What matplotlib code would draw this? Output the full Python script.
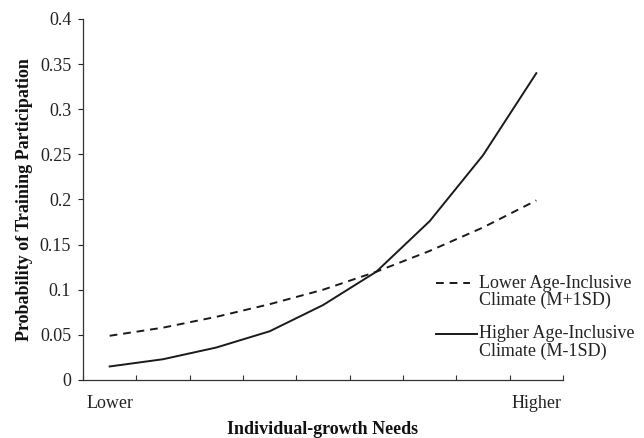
import matplotlib
matplotlib.use("Agg")
import matplotlib.pyplot as plt
import numpy as np

plt.rcParams['font.family'] = ['Liberation Serif', 'DejaVu Serif']

categories = ["Lower", "", "", "", "", "", "", "", "Higher"]
lower_climate = [0.049, 0.058, 0.070, 0.084, 0.100, 0.120, 0.143, 0.169, 0.199]
higher_climate = [0.015, 0.023, 0.036, 0.054, 0.083, 0.120, 0.176, 0.249, 0.340]
y_ticks = [0, 0.05, 0.1, 0.15, 0.2, 0.25, 0.3, 0.35, 0.4]
y_tick_labels = ["0", "0.05", "0.1", "0.15", "0.2", "0.25", "0.3", "0.35", "0.4"]
legend_lower = ["Lower Age-Inclusive", "Climate (M+1SD)"]
legend_higher = ["Higher Age-Inclusive", "Climate (M-1SD)"]

W, H = 644, 438
fig = plt.figure(figsize=(W / 100, H / 100), dpi=100)
ax = fig.add_axes([83 / W, 1 - 380 / H, 480 / W, 361 / H])

x = np.arange(1, len(categories) + 1)
col = '#1a1a1a'
ax.plot(x, lower_climate, color=col, lw=1.4, dashes=[4.0, 3.0])
ax.plot(x, higher_climate, color=col, lw=1.4)

ax.set_xlim(0.5, len(categories) + 0.5)
ax.set_ylim(0, 0.4)

ax.set_yticks(y_ticks)
ax.set_yticklabels(y_tick_labels)
ax.tick_params(axis='y', direction='out', length=3.5, width=0.8, pad=5,
               labelsize=13, colors='#222')

ax.set_xticks(x)
ax.set_xticklabels(categories)
ax.tick_params(axis='x', which='major', length=0, pad=11, labelsize=13,
               colors='#222')
ax.set_xticks(np.arange(0.5, len(categories) + 1.0, 1.0), minor=True)
ax.tick_params(axis='x', which='minor', direction='in', length=3.5, width=0.8,
               color='#333')

for s in ['top', 'right']:
    ax.spines[s].set_visible(False)
for s in ['left', 'bottom']:
    ax.spines[s].set_color('#333')
    ax.spines[s].set_linewidth(0.9)

ax.set_ylabel("Probability of Training Participation", fontsize=13,
              fontweight='bold', color='#111', labelpad=5)
ax.set_xlabel("Individual-growth Needs", fontsize=13, fontweight='bold',
              color='#111', labelpad=6)

# legend drawn manually (handle aligned with first text line)
def legend_entry(y_first, texts, dashed, x_end):
    kw = dict(color=col, lw=1.4, transform=ax.transAxes, clip_on=False)
    if dashed:
        kw['dashes'] = [4.0, 3.0]
    ax.plot([0.735, x_end], [y_first, y_first], **kw)
    step = 17 / 361
    for i, t in enumerate(texts):
        ax.text(0.825, y_first - i * step, t, transform=ax.transAxes,
                fontsize=13, va='center', ha='left', color='#222')

legend_entry((380 - 283) / 361, legend_lower, True, 0.806)
legend_entry((380 - 334) / 361, legend_higher, False, 0.82)

fig.savefig("out.png", dpi=100)
